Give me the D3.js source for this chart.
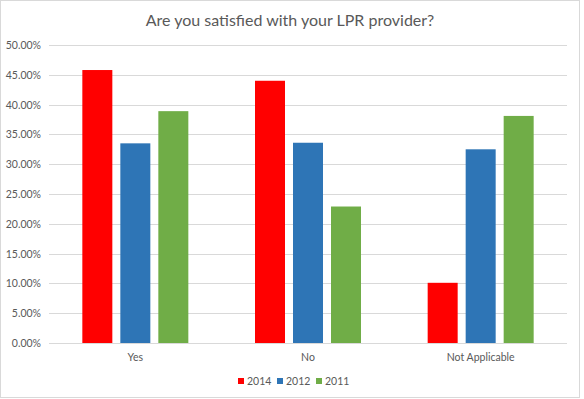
<!DOCTYPE html>
<html>
<head>
<meta charset="utf-8">
<script src="https://d3js.org/d3.v7.min.js"></script>
<style>
  body { margin: 0; background: #fff; }
  text { font-family: Lato, "Open Sans", sans-serif; fill: #595959; }
</style>
</head>
<body>
<svg id="chart" width="584" height="399"></svg>
<script>
  // chart data
  var categories = ["Yes", "No", "Not Applicable"];
  var seriesNames = ["2014", "2012", "2011"];
  var values2014 = [0.458, 0.440, 0.101];
  var values2012 = [0.335, 0.336, 0.325];
  var values2011 = [0.389, 0.229, 0.381];
  var yTicks = [0, 0.05, 0.10, 0.15, 0.20, 0.25, 0.30, 0.35, 0.40, 0.45, 0.50];
  var colors = ["#ff0000", "#2e75b6", "#70ad47"];
  var title = "Are you satisfied with your LPR provider?";

  var series = [values2014, values2012, values2011];

  var svg = d3.select("#chart");

  // outer frame
  svg.append("rect")
    .attr("x", 0.5).attr("y", 0.5)
    .attr("width", 579).attr("height", 397)
    .attr("fill", "#fff")
    .attr("stroke", "#d9d9d9");

  svg.append("text")
    .attr("x", 290).attr("y", 26)
    .attr("text-anchor", "middle")
    .attr("font-size", "16px")
    .text(title);

  var plotLeft = 49, plotRight = 567, plotTop = 45, plotBottom = 343;

  var y = d3.scaleLinear().domain([0, 0.5]).range([plotBottom, plotTop]);
  var x0 = d3.scaleBand().domain(categories).range([plotLeft, plotRight]);
  var barW = 30, gap = 8;

  // gridlines
  svg.append("g").selectAll("line")
    .data(yTicks)
    .enter().append("line")
    .attr("x1", plotLeft).attr("x2", plotRight)
    .attr("y1", function(d) { return Math.round(y(d)) + 0.5; })
    .attr("y2", function(d) { return Math.round(y(d)) + 0.5; })
    .attr("stroke", "#d9d9d9")
    .attr("stroke-width", 1);

  // y tick labels
  svg.append("g").selectAll("text")
    .data(yTicks)
    .enter().append("text")
    .attr("x", 41)
    .attr("y", function(d) { return y(d) + 4; })
    .attr("text-anchor", "end")
    .attr("font-size", "10.5px")
    .text(function(d) { return d3.format(".2%")(d); });

  // bars
  series.forEach(function(vals, s) {
    svg.append("g").selectAll("rect")
      .data(vals)
      .enter().append("rect")
      .attr("x", function(d, i) {
        return x0(categories[i]) + x0.bandwidth() / 2 - barW * 1.5 - gap + s * (barW + gap);
      })
      .attr("y", function(d) { return y(d); })
      .attr("width", barW)
      .attr("height", function(d) { return plotBottom - y(d); })
      .attr("fill", colors[s]);
  });

  // category labels
  svg.append("g").selectAll("text")
    .data(categories)
    .enter().append("text")
    .attr("x", function(d) { return x0(d) + x0.bandwidth() / 2; })
    .attr("y", 361)
    .attr("text-anchor", "middle")
    .attr("font-size", "10.5px")
    .text(function(d) { return d; });

  // legend
  var legendX = [238, 277, 316];
  var lg = svg.append("g").selectAll("g")
    .data(seriesNames)
    .enter().append("g")
    .attr("transform", function(d, i) { return "translate(" + legendX[i] + ",378)"; });
  lg.append("rect")
    .attr("width", 6).attr("height", 6)
    .attr("fill", function(d, i) { return colors[i]; });
  lg.append("text")
    .attr("x", 9).attr("y", 7)
    .attr("font-size", "10.5px")
    .text(function(d) { return d; });
</script>
</body>
</html>
